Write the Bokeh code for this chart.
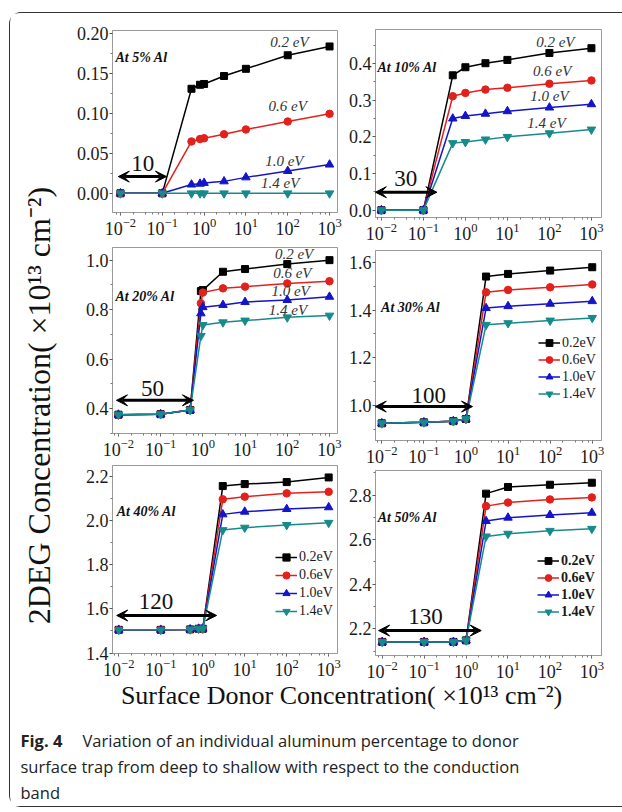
import math
from bokeh.plotting import figure
from bokeh.layouts import column, row
from bokeh.models import (FixedTicker, NumeralTickFormatter, Range1d, Arrow, VeeHead,
                          Legend, LegendItem, LogTicker)
from bokeh.core.properties import value
from bokeh.embed import file_html
from bokeh.resources import INLINE

# ---------------- data ----------------
SERIES_LABELS = ["0.2 eV", "0.6 eV", "1.0 eV", "1.4 eV"]
LEGEND_LABELS = ["0.2eV", "0.6eV", "1.0eV", "1.4eV"]
AL_LABELS = ["At 5% Al", "At 10% Al", "At 20% Al", "At 30% Al", "At 40% Al", "At 50% Al"]
ARROW_LABELS = ["10", "30", "50", "100", "120", "130"]

# 5% Al
P1_X = [0.01, 0.1, 0.5, 0.8, 1, 3, 10, 100, 1000]
P1_02 = [0, 0, 0.131, 0.136, 0.137, 0.147, 0.156, 0.173, 0.184]
P1_06 = [0, 0, 0.065, 0.068, 0.069, 0.074, 0.080, 0.090, 0.0996]
P1_10 = [0, 0, 0.011, 0.012, 0.013, 0.015, 0.020, 0.028, 0.036]
P1_14 = [0, 0, 0, 0, 0, 0, 0, 0, 0]
# 10% Al
P2_X = [0.01, 0.1, 0.5, 1, 3, 10, 100, 1000]
P2_02 = [0, 0, 0.368, 0.390, 0.401, 0.410, 0.429, 0.442]
P2_06 = [0, 0, 0.311, 0.320, 0.329, 0.334, 0.345, 0.354]
P2_10 = [0, 0, 0.250, 0.257, 0.263, 0.270, 0.280, 0.289]
P2_14 = [0, 0, 0.183, 0.186, 0.193, 0.200, 0.210, 0.220]
# 20% Al
P3_X = [0.01, 0.1, 0.5, 0.9, 1, 3, 10, 100, 1000]
P3_02 = [0.376, 0.378, 0.395, 0.875, 0.879, 0.953, 0.964, 0.984, 1.000]
P3_06 = [0.376, 0.378, 0.395, 0.826, 0.869, 0.886, 0.893, 0.906, 0.915]
P3_10 = [0.376, 0.378, 0.395, 0.785, 0.810, 0.819, 0.831, 0.839, 0.852]
P3_14 = [0.376, 0.378, 0.395, 0.694, 0.738, 0.749, 0.756, 0.769, 0.776]
# 30% Al
P4_X = [0.01, 0.1, 0.5, 1, 3, 10, 100, 1000]
P4_02 = [0.926, 0.930, 0.935, 0.944, 1.540, 1.551, 1.565, 1.579]
P4_06 = [0.926, 0.930, 0.935, 0.944, 1.474, 1.484, 1.495, 1.507]
P4_10 = [0.926, 0.930, 0.935, 0.944, 1.408, 1.416, 1.426, 1.437]
P4_14 = [0.926, 0.930, 0.935, 0.944, 1.338, 1.345, 1.356, 1.367]
# 40% Al
P5_X = [0.01, 0.1, 0.5, 0.8, 1, 3, 10, 100, 1000]
P5_02 = [1.505, 1.505, 1.507, 1.510, 1.510, 2.155, 2.164, 2.173, 2.194]
P5_06 = [1.505, 1.505, 1.507, 1.510, 1.510, 2.095, 2.107, 2.122, 2.129]
P5_10 = [1.505, 1.505, 1.507, 1.510, 1.510, 2.027, 2.039, 2.051, 2.059]
P5_14 = [1.505, 1.505, 1.507, 1.510, 1.510, 1.956, 1.967, 1.979, 1.989]
# 50% Al
P6_X = [0.01, 0.1, 0.5, 1, 3, 10, 100, 1000]
P6_02 = [2.141, 2.141, 2.141, 2.148, 2.807, 2.837, 2.847, 2.856]
P6_06 = [2.141, 2.141, 2.141, 2.148, 2.751, 2.767, 2.781, 2.790]
P6_10 = [2.141, 2.141, 2.141, 2.148, 2.684, 2.699, 2.711, 2.721]
P6_14 = [2.141, 2.141, 2.141, 2.148, 2.615, 2.627, 2.640, 2.649]

# y ticks
P1_TICKS = [0.00, 0.05, 0.10, 0.15, 0.20]
P2_TICKS = [0.0, 0.1, 0.2, 0.3, 0.4, 0.5]
P3_TICKS = [0.4, 0.6, 0.8, 1.0]
P4_TICKS = [1.0, 1.2, 1.4, 1.6]
P5_TICKS = [1.4, 1.6, 1.8, 2.0, 2.2]
P6_TICKS = [2.2, 2.4, 2.6, 2.8]

# annotation positions (data coordinates)
LABEL_X = [[110, 100, 83, 66], [138, 117, 100, 85], [145, 132, 120, 104]]
LABEL_Y = [[0.189, 0.110, 0.041, 0.0125], [0.458, 0.379, 0.311, 0.237], [1.024, 0.948, 0.875, 0.800]]
AL_X = [0.0076, 0.0081, 0.0085, 0.0096, 0.0089, 0.0078]
AL_Y = [0.170, 0.390, 0.855, 1.412, 2.039, 2.700]
ARROW_X0 = [0.0089, 0.0072, 0.0090, 0.0070, 0.0089, 0.0082]
ARROW_X1 = [0.126, 0.21, 0.60, 1.43, 2.14, 2.30]
ARROW_Y = [0.021, 0.049, 0.434, 0.996, 1.570, 2.192]
ARROW_TX = [0.034, 0.038, 0.064, 0.13, 0.077, 0.108]
ARROW_TY = [0.0375, 0.087, 0.481, 1.042, 1.633, 2.253]

Y_TITLE = "2DEG Concentration( \u00d710\u00b9\u00b3 cm\u207b\u00b2)"
X_TITLE = "Surface Donor Concentration( \u00d710\u00b9\u00b3 cm\u207b\u00b2)"
CAP_BOLD = "Fig. 4"
CAP_LINES = ["Variation of an individual aluminum percentage to donor",
             "surface trap from deep to shallow with respect to the conduction",
             "band"]

COLORS = ["#000000", "#e3211c", "#1414c8", "#178a8a"]
MARKERS = ["square", "circle", "triangle", "inverted_triangle"]
SIZES = [7, 7.5, 8.5, 8.5]
SERIF = "Liberation Serif"


def make_panel(idx, w, h, mb, xr, yr, ticks, fmt, xs, ys, legend=None):
    p = figure(width=w, height=h, x_axis_type="log",
               x_range=Range1d(10 ** xr[0], 10 ** xr[1]), y_range=Range1d(*yr),
               output_backend="svg", toolbar_location=None, tools="",
               min_border_left=mb[0], min_border_right=mb[1],
               min_border_top=mb[2], min_border_bottom=mb[3])
    p.background_fill_color = "white"
    p.border_fill_color = "white"
    p.outline_line_color = "#9a9a9a"
    p.outline_line_width = 1
    p.grid.visible = False
    p.xaxis.ticker = LogTicker(desired_num_ticks=6)
    step = ticks[1] - ticks[0]
    minors = [t + step / 2 for t in ticks] + [ticks[0] - step / 2]
    p.yaxis.ticker = FixedTicker(ticks=ticks, minor_ticks=minors)
    p.yaxis.formatter = NumeralTickFormatter(format=fmt)
    for ax in (p.xaxis[0], p.yaxis[0]):
        ax.axis_line_color = "#9a9a9a"
        ax.major_tick_line_color = "#555555"
        ax.minor_tick_line_color = "#777777"
        ax.major_tick_out = 3
        ax.major_tick_in = 0
        ax.minor_tick_out = 2
        ax.minor_tick_in = 0
        ax.major_label_text_font = SERIF
        ax.major_label_text_font_size = "18px"
        ax.major_label_standoff = 1
        ax.major_label_text_color = "#1a1a1a"
    p.xaxis.major_label_standoff = 2
    rends = []
    for y, c, m, s in zip(ys, COLORS, MARKERS, SIZES):
        r1 = p.line(xs, y, line_color=c, line_width=1.5)
        r2 = p.scatter(xs, y, marker=m, size=s, fill_color=c, line_color=c)
        rends.append([r1, r2])
    if idx < 3:
        p.text(x=LABEL_X[idx], y=LABEL_Y[idx], text=SERIES_LABELS,
               text_font=value(SERIF), text_font_style="italic", text_font_size="15px",
               text_align="center", text_baseline="middle", text_color="#333333")
    p.text(x=[AL_X[idx]], y=[AL_Y[idx]], text=[AL_LABELS[idx]],
           text_font=value(SERIF), text_font_style="bold italic", text_font_size="14px",
           text_align="left", text_baseline="middle", text_color="#111111")
    p.add_layout(Arrow(start=VeeHead(size=11, fill_color="black", line_color="black"),
                       end=VeeHead(size=11, fill_color="black", line_color="black"),
                       x_start=ARROW_X0[idx], y_start=ARROW_Y[idx],
                       x_end=ARROW_X1[idx], y_end=ARROW_Y[idx],
                       line_width=3, line_color="black"))
    p.text(x=[ARROW_TX[idx]], y=[ARROW_TY[idx]], text=[ARROW_LABELS[idx]],
           text_font=value(SERIF), text_font_size="23px",
           text_align="center", text_baseline="middle", text_color="#111111")
    if legend is not None:
        loc, rowh, style = legend
        items = [LegendItem(label=lab, renderers=r) for lab, r in zip(LEGEND_LABELS, rends)]
        lg = Legend(items=items, location=loc, background_fill_alpha=0, border_line_alpha=0,
                    padding=0, margin=0, spacing=0, glyph_width=22, glyph_height=rowh,
                    label_height=rowh, label_standoff=2, label_text_font=SERIF,
                    label_text_font_size="14px", label_text_font_style=style,
                    label_text_baseline="middle", label_text_color="#1a1a1a")
        p.add_layout(lg)
    return p


LW, RW = 283, 279
p1 = make_panel(0, LW, 229, (52, 6, 17, 30), (-2.19, 3.19), (-0.024, 0.204), P1_TICKS, "0.00",
                P1_X, [P1_02, P1_06, P1_10, P1_14])
p3 = make_panel(2, LW, 220, (49, 3, 5, 29), (-2.14, 3.19), (0.30, 1.051), P3_TICKS, "0.0",
                P3_X, [P3_02, P3_06, P3_10, P3_14])
p5 = make_panel(4, LW, 218, (51, 1, 3, 27), (-2.15, 3.21), (1.398, 2.248), P5_TICKS, "0.0",
                P5_X, [P5_02, P5_06, P5_10, P5_14], legend=((163, 33), 18, "normal"))
p2 = make_panel(1, RW, 234, (30, 21, 16, 30), (-2.14, 3.24), (-0.02, 0.493), P2_TICKS, "0.0",
                P2_X, [P2_02, P2_06, P2_10, P2_14])
p4 = make_panel(3, RW, 221, (27, 19, 3, 28), (-2.15, 3.22), (0.854, 1.649), P4_TICKS, "0.0",
                P4_X, [P4_02, P4_06, P4_10, P4_14], legend=((163, 38), 17, "normal"))
p6 = make_panel(5, RW, 212, (32, 16, 2, 23), (-2.16, 3.23), (2.08, 2.911), P6_TICKS, "0.0",
                P6_X, [P6_02, P6_06, P6_10, P6_14], legend=((162, 35), 17, "bold"))


def blank(w, h):
    f = figure(width=w, height=h, x_range=Range1d(0, w), y_range=Range1d(0, h),
               output_backend="svg", toolbar_location=None, tools="", min_border=0)
    f.axis.visible = False
    f.grid.visible = False
    f.outline_line_color = None
    f.background_fill_color = "white"
    f.border_fill_color = "white"
    return f


yt = blank(50, 667)
yt.text(x=[28], y=[275], text=[Y_TITLE], angle=math.pi / 2, text_font=value(SERIF),
        text_font_size="32px", text_align="center", text_baseline="middle", text_color="#111111")

bt = blank(612, 126)
bt.text(x=[331], y=[111], text=[X_TITLE], text_font=value(SERIF), text_font_size="26px",
        text_align="center", text_baseline="middle", text_color="#111111")
bt.text(x=[10], y=[66], text=[CAP_BOLD], text_font=value("Open Sans"), text_font_style="bold",
        text_font_size="16.5px", text_align="left", text_baseline="middle", text_color="#222222")
bt.text(x=[72, 10, 10], y=[66, 40, 14], text=CAP_LINES, text_font=value("Open Sans"),
        text_font_size="16.5px", text_align="left", text_baseline="middle", text_color="#222222")

left_col = column(p1, p3, p5, spacing=0)
right_col = column(p2, p4, p6, spacing=0)
top = row(yt, left_col, right_col, spacing=0)
root = column(top, bt, spacing=0, margin=(12, 0, 0, 9),
              styles={"border-top": "1px solid #333", "border-left": "1px solid #333",
                      "border-bottom": "1px solid #333", "border-top-left-radius": "12px",
                      "border-bottom-left-radius": "12px"})

open("out.html", "w").write(file_html(root, INLINE))
